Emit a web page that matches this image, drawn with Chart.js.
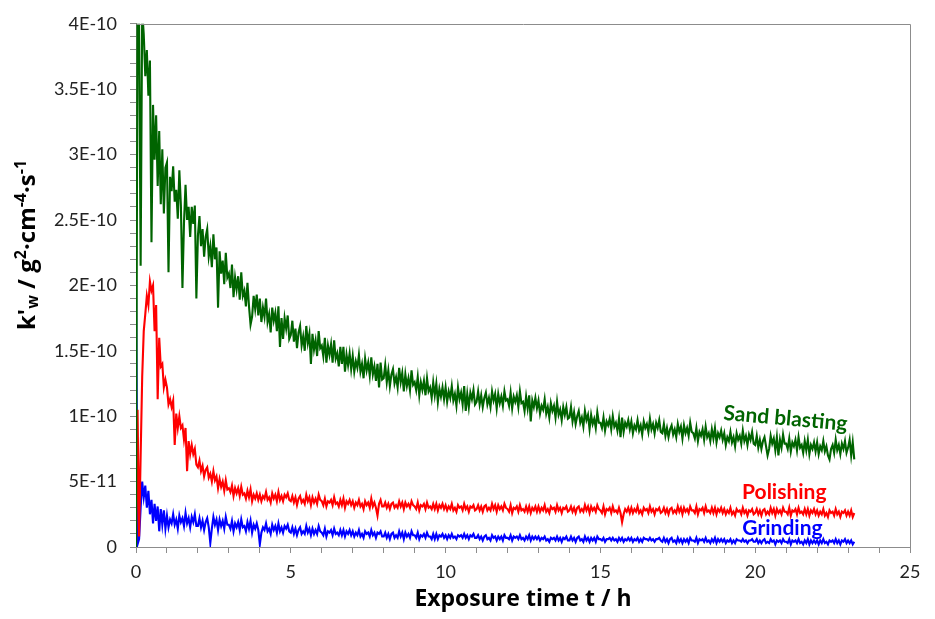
<!DOCTYPE html>
<html><head><meta charset="utf-8">
<script src="https://cdn.jsdelivr.net/npm/chart.js@4.4.1/dist/chart.umd.min.js"></script>
<style>html,body{margin:0;padding:0;background:#fff}canvas{display:block}</style>
</head><body>
<canvas id="c" width="935" height="619"></canvas>
<script>
// Exposure time (h), one row per hour
const hours = [
0,0.05,0.1,0.15,0.2,0.25,0.3,0.35,0.4,0.45,0.5,0.55,0.6,0.65,0.7,0.75,0.8,0.85,0.9,0.95,
1,1.05,1.1,1.15,1.2,1.25,1.3,1.35,1.4,1.45,1.5,1.55,1.6,1.65,1.7,1.75,1.8,1.85,1.9,1.95,
2,2.05,2.1,2.15,2.2,2.25,2.3,2.35,2.4,2.45,2.5,2.55,2.6,2.65,2.7,2.75,2.8,2.85,2.9,2.95,
3,3.05,3.1,3.15,3.2,3.25,3.3,3.35,3.4,3.45,3.5,3.55,3.6,3.65,3.7,3.75,3.8,3.85,3.9,3.95,
4,4.05,4.1,4.15,4.2,4.25,4.3,4.35,4.4,4.45,4.5,4.55,4.6,4.65,4.7,4.75,4.8,4.85,4.9,4.95,
5,5.05,5.1,5.15,5.2,5.25,5.3,5.35,5.4,5.45,5.5,5.55,5.6,5.65,5.7,5.75,5.8,5.85,5.9,5.95,
6,6.05,6.1,6.15,6.2,6.25,6.3,6.35,6.4,6.45,6.5,6.55,6.6,6.65,6.7,6.75,6.8,6.85,6.9,6.95,
7,7.05,7.1,7.15,7.2,7.25,7.3,7.35,7.4,7.45,7.5,7.55,7.6,7.65,7.7,7.75,7.8,7.85,7.9,7.95,
8,8.05,8.1,8.15,8.2,8.25,8.3,8.35,8.4,8.45,8.5,8.55,8.6,8.65,8.7,8.75,8.8,8.85,8.9,8.95,
9,9.05,9.1,9.15,9.2,9.25,9.3,9.35,9.4,9.45,9.5,9.55,9.6,9.65,9.7,9.75,9.8,9.85,9.9,9.95,
10,10.05,10.1,10.15,10.2,10.25,10.3,10.35,10.4,10.45,10.5,10.55,10.6,10.65,10.7,10.75,10.8,10.85,10.9,10.95,
11,11.05,11.1,11.15,11.2,11.25,11.3,11.35,11.4,11.45,11.5,11.55,11.6,11.65,11.7,11.75,11.8,11.85,11.9,11.95,
12,12.05,12.1,12.15,12.2,12.25,12.3,12.35,12.4,12.45,12.5,12.55,12.6,12.65,12.7,12.75,12.8,12.85,12.9,12.95,
13,13.05,13.1,13.15,13.2,13.25,13.3,13.35,13.4,13.45,13.5,13.55,13.6,13.65,13.7,13.75,13.8,13.85,13.9,13.95,
14,14.05,14.1,14.15,14.2,14.25,14.3,14.35,14.4,14.45,14.5,14.55,14.6,14.65,14.7,14.75,14.8,14.85,14.9,14.95,
15,15.05,15.1,15.15,15.2,15.25,15.3,15.35,15.4,15.45,15.5,15.55,15.6,15.65,15.7,15.75,15.8,15.85,15.9,15.95,
16,16.05,16.1,16.15,16.2,16.25,16.3,16.35,16.4,16.45,16.5,16.55,16.6,16.65,16.7,16.75,16.8,16.85,16.9,16.95,
17,17.05,17.1,17.15,17.2,17.25,17.3,17.35,17.4,17.45,17.5,17.55,17.6,17.65,17.7,17.75,17.8,17.85,17.9,17.95,
18,18.05,18.1,18.15,18.2,18.25,18.3,18.35,18.4,18.45,18.5,18.55,18.6,18.65,18.7,18.75,18.8,18.85,18.9,18.95,
19,19.05,19.1,19.15,19.2,19.25,19.3,19.35,19.4,19.45,19.5,19.55,19.6,19.65,19.7,19.75,19.8,19.85,19.9,19.95,
20,20.05,20.1,20.15,20.2,20.25,20.3,20.35,20.4,20.45,20.5,20.55,20.6,20.65,20.7,20.75,20.8,20.85,20.9,20.95,
21,21.05,21.1,21.15,21.2,21.25,21.3,21.35,21.4,21.45,21.5,21.55,21.6,21.65,21.7,21.75,21.8,21.85,21.9,21.95,
22,22.05,22.1,22.15,22.2,22.25,22.3,22.35,22.4,22.45,22.5,22.55,22.6,22.65,22.7,22.75,22.8,22.85,22.9,22.95,
23,23.05,23.1,23.15,23.2];

// k'w values in units of 1E-12 g²·cm⁻⁴·s⁻¹
const sandBlasting = [
0,430,400,215,410,392,360,380,345,372,233,338,296,330,276,318,262,304,255,290,
294,210,283,272,291,264,273,251,288,261,198,248,277,250,260,237,260,247,261,190,
238,253,230,243,222,237,243,222,230,214,239,220,229,183,226,209,219,201,225,206,
209,198,216,191,206,197,207,189,210,192,196,184,202,184,170,176,192,182,193,177,
190,172,183,176,190,172,178,164,183,173,179,165,184,153,175,159,175,167,177,159,
162,173,157,167,152,164,169,154,161,150,169,156,163,140,163,151,158,146,165,152,
154,146,160,141,154,147,155,141,158,144,148,138,153,140,153,134,147,139,148,136,
146,134,142,137,147,134,140,129,144,135,141,131,145,132,138,127,140,122,141,128,
129,139,126,135,123,132,136,125,130,122,137,126,133,119,132,123,129,120,135,124,
126,120,130,116,126,120,127,116,129,119,122,114,126,116,125,111,121,115,122,113,
122,111,119,114,123,112,117,108,122,113,118,109,123,104,117,107,118,113,120,109,
111,119,109,116,107,114,118,109,114,107,119,112,117,106,117,110,115,108,119,112,
113,108,118,106,115,111,116,107,119,110,111,104,115,106,116,96,112,107,114,106,
112,102,108,105,113,102,107,99,110,104,108,99,111,101,105,97,107,101,107,98,
99,107,96,103,94,100,104,95,99,92,104,97,101,90,101,94,98,91,103,95,
95,91,99,89,96,93,98,90,100,92,95,89,98,84,99,88,95,92,97,90,
96,87,93,90,97,89,93,86,96,91,94,88,98,90,94,87,95,91,97,88,
87,94,85,91,84,90,93,86,90,84,94,88,92,83,93,87,91,85,95,88,
87,83,91,81,88,85,90,82,92,84,87,81,90,83,91,80,87,84,89,82,
87,78,84,81,88,80,84,77,87,82,85,79,89,81,85,78,86,82,88,79,
78,85,76,82,75,81,84,77,70,75,85,79,83,74,84,70,82,76,86,79,
79,75,83,73,80,77,82,74,84,76,78,72,81,74,82,71,78,75,80,73,
80,71,77,74,81,73,77,70,67,75,78,72,82,74,78,71,79,75,81,72,
76,82,70,80,67];

const polishing = [
0,105,8,70,130,165,178,192,185,203,196,200,165,185,113,160,138,140,122,128,
122,109,113,107,112,78,102,91,100,91,93,82,91,58,81,71,78,71,75,63,
61,66,58,62,54,59,61,53,56,50,58,51,54,45,52,46,50,43,51,44,
45,42,47,39,45,41,45,39,46,40,41,37,43,38,44,35,40,37,41,36,
40,35,39,37,42,36,38,34,41,37,40,35,42,36,39,35,40,38,41,36,
35,39,34,38,32,37,39,34,36,33,40,35,38,32,38,34,37,33,40,36,
35,32,37,31,35,34,36,32,38,33,34,31,36,32,37,30,35,33,36,32,
35,30,34,32,36,31,33,29,35,32,34,30,37,31,34,30,24,33,36,31,
31,34,30,33,29,33,34,30,32,30,35,31,34,29,34,31,33,30,35,32,
31,29,34,28,32,31,33,29,34,30,31,29,33,29,33,28,32,30,33,29,
32,28,31,29,33,28,30,27,32,30,31,28,33,29,31,27,31,30,32,28,
29,32,28,31,27,31,32,28,30,28,33,29,32,27,32,29,31,28,33,30,
29,27,32,26,30,29,31,27,32,28,29,27,31,27,31,26,30,28,31,27,
31,27,30,28,32,27,29,26,31,29,30,27,32,28,30,26,30,29,31,27,
28,31,27,30,26,30,31,27,29,27,32,28,31,26,31,28,30,27,32,29,
28,26,31,25,29,28,30,26,31,27,28,26,30,26,19,25,29,27,30,26,
30,26,29,27,31,26,28,25,30,28,29,26,31,27,29,25,29,28,30,26,
27,30,26,29,25,29,30,26,28,26,31,27,30,25,30,27,29,26,31,28,
28,26,31,25,29,28,30,26,31,27,28,26,30,26,30,25,29,27,30,26,
29,25,28,26,30,25,27,24,29,27,28,25,30,26,28,24,28,27,29,25,
26,29,25,28,24,28,29,25,27,25,30,26,29,24,29,26,28,25,30,27,
27,25,30,24,28,27,29,25,30,26,27,25,29,25,29,24,28,26,29,25,
28,24,27,25,29,24,26,23,28,26,27,24,29,25,27,23,27,26,28,24,
27,24,28,23,26];

const grinding = [
208,2,6,30,50,38,47,30,43,25,36,18,33,20,31,12,29,17,28,14,
24,15,21,18,25,17,21,14,24,19,22,16,26,18,22,15,23,19,25,16,
16,22,15,20,13,19,22,15,3,14,23,17,21,13,21,16,20,14,23,17,
17,14,20,12,18,15,19,13,21,15,16,12,19,14,20,11,17,14,18,13,
2,11,15,13,18,12,14,10,17,13,16,11,18,12,15,11,16,14,17,12,
11,15,10,14,9,13,15,10,12,10,16,11,14,9,14,10,13,10,16,12,
11,9,14,8,12,11,13,9,14,10,11,9,13,9,13,8,12,10,13,9,
12,8,11,9,13,8,10,7,12,10,11,8,13,9,11,7,11,10,12,8,
8,11,7,10,6,10,11,7,9,7,12,8,11,6,11,8,10,7,12,9,
9,7,11,6,9,8,10,7,11,8,8,6,10,6,10,6,9,8,10,7,
9,6,9,7,10,7,8,6,9,8,9,7,10,7,9,6,9,8,10,7,
7,9,6,8,5,8,9,6,7,5,9,7,8,5,8,6,8,5,9,7,
7,6,9,5,8,7,8,6,9,6,7,5,8,6,9,5,8,6,8,6,
8,5,7,6,8,5,6,4,7,6,7,5,8,5,7,4,7,6,8,5,
5,8,5,7,4,7,8,5,6,4,8,5,7,4,7,5,7,4,8,6,
6,5,7,4,6,6,7,5,7,5,6,4,7,5,7,4,6,5,7,5,
7,4,6,5,7,4,6,4,7,6,6,5,7,5,6,4,6,6,7,5,
4,7,4,6,3,6,7,4,5,3,7,4,6,3,6,4,6,3,7,5,
5,4,7,3,6,5,6,4,7,4,5,3,6,4,7,3,6,4,6,4,
6,3,5,4,6,3,5,3,6,5,5,4,6,4,5,3,5,5,6,4,
4,6,3,5,3,5,6,3,4,3,6,4,5,2,5,4,5,3,6,4,
4,3,6,2,5,4,5,3,6,3,4,2,5,3,6,2,5,3,5,3,
5,2,5,3,6,3,4,2,5,4,5,3,6,3,5,2,5,4,6,3,
5,3,5,2,4];

const seriesNames = ['Sand blasting','Polishing','Grinding'];
const seriesColors = ['#006400','#ff0000','#0000ff'];
const xTickLabels = ['0','5','10','15','20','25'];
const yTickLabels = ['0','5E-11','1E-10','1.5E-10','2E-10','2.5E-10','3E-10','3.5E-10','4E-10'];
const xTitle = 'Exposure time t / h';
// y title pieces: 0 normal, 1 superscript, -1 subscript
const yTitleParts = [["k'",0],['w',-1],[' / g',0],['2',1],['·cm',0],['-4',1],['·s',0],['-1',1]];

const toPoints = arr => arr.map((v, i) => ({x: hours[i], y: v}));

const framePlugin = {
  id: 'frame',
  afterDraw(chart) {
    const {ctx, chartArea: a} = chart;
    ctx.save();
    ctx.strokeStyle = '#8c8c8c';
    ctx.lineWidth = 1;
    ctx.beginPath();
    ctx.moveTo(Math.round(a.left) + 0.5, Math.round(a.top) + 0.5);
    ctx.lineTo(Math.round(a.right) + 0.5, Math.round(a.top) + 0.5);
    ctx.lineTo(Math.round(a.right) + 0.5, Math.round(a.bottom) + 0.5);
    ctx.stroke();
    ctx.restore();
  }
};

const textPlugin = {
  id: 'texts',
  afterDraw(chart) {
    const {ctx} = chart;
    const xs = chart.scales.x, ys = chart.scales.y;
    ctx.save();
    ctx.font = 'bold 21px Lato';
    ctx.textAlign = 'center';
    ctx.textBaseline = 'alphabetic';
    const anchors = [[20.96, 93.1, 5], [20.94, 36.8, 0], [20.88, 9.0, 0]];
    seriesNames.forEach((name, i) => {
      const [t, v, rot] = anchors[i];
      ctx.save();
      ctx.translate(xs.getPixelForValue(t), ys.getPixelForValue(v));
      ctx.rotate(rot * Math.PI / 180);
      ctx.fillStyle = seriesColors[i];
      ctx.fillText(name, 0, 0);
      ctx.restore();
    });
    const big = 24, small = 16;
    const fontFor = k => 'bold ' + (k === 0 ? big : small) + 'px "Open Sans"';
    let total = 0;
    yTitleParts.forEach(([t, k]) => { ctx.font = fontFor(k); total += ctx.measureText(t).width; });
    const cy = 245;
    ctx.translate(35, cy + total / 2);
    ctx.rotate(-Math.PI / 2);
    ctx.textAlign = 'left';
    ctx.fillStyle = '#000';
    let x = 0;
    yTitleParts.forEach(([t, k]) => {
      ctx.font = fontFor(k);
      const dy = k === 1 ? -big * 0.38 : (k === -1 ? big * 0.12 : 0);
      ctx.fillText(t, x, dy);
      x += ctx.measureText(t).width;
    });
    ctx.restore();
  }
};

function isStep(v, n) { const r = Math.round(v); return Math.abs(v - r) < 1e-6 && r % n === 0 ? r : null; }

function draw() {
  new Chart(document.getElementById('c'), {
    type: 'line',
    data: {
      datasets: [
        {label: seriesNames[0], data: toPoints(sandBlasting), borderColor: seriesColors[0], order: 0},
        {label: seriesNames[1], data: toPoints(polishing), borderColor: seriesColors[1], order: 1},
        {label: seriesNames[2], data: toPoints(grinding), borderColor: seriesColors[2], order: 2}
      ].map(d => Object.assign(d, {borderWidth: 2.1, pointRadius: 0, tension: 0, fill: false}))
    },
    options: {
      responsive: false,
      animation: false,
      devicePixelRatio: 1,
      layout: {padding: {top: 14, right: 25, left: 0, bottom: 0}},
      plugins: {legend: {display: false}, tooltip: {enabled: false}},
      scales: {
        x: {
          type: 'linear', min: 0, max: 25,
          ticks: {
            stepSize: 1, autoSkip: false, maxRotation: 0, padding: 8, color: '#222',
            font: {family: 'Lato', size: 18},
            callback: v => { const r = isStep(v, 5); return r === null ? '' : xTickLabels[r / 5]; }
          },
          grid: {drawOnChartArea: false, drawTicks: true, tickLength: 6, color: '#8c8c8c'},
          border: {color: '#8c8c8c', width: 1},
          title: {display: true, text: xTitle, color: '#000',
            font: {family: 'Open Sans', size: 23, weight: 'bold'}, padding: {top: 0, bottom: 6}},
          afterFit: s => { s.height = 72; }
        },
        y: {
          type: 'linear', min: 0, max: 400,
          ticks: {
            stepSize: 10, autoSkip: false, padding: 13, color: '#222',
            font: {family: 'Lato', size: 18},
            callback: v => { const r = isStep(v, 50); return r === null ? '' : yTickLabels[r / 50]; }
          },
          grid: {drawOnChartArea: false, drawTicks: true, tickLength: 6, color: '#8c8c8c'},
          border: {color: '#8c8c8c', width: 1},
          afterFit: s => { s.width = 136; }
        }
      }
    },
    plugins: [framePlugin, textPlugin]
  });
}

Promise.all([
  document.fonts.load('18px Lato'), document.fonts.load('bold 21px Lato'),
  document.fonts.load('bold 23px "Open Sans"')
]).then(draw, draw);
</script>
</body></html>
